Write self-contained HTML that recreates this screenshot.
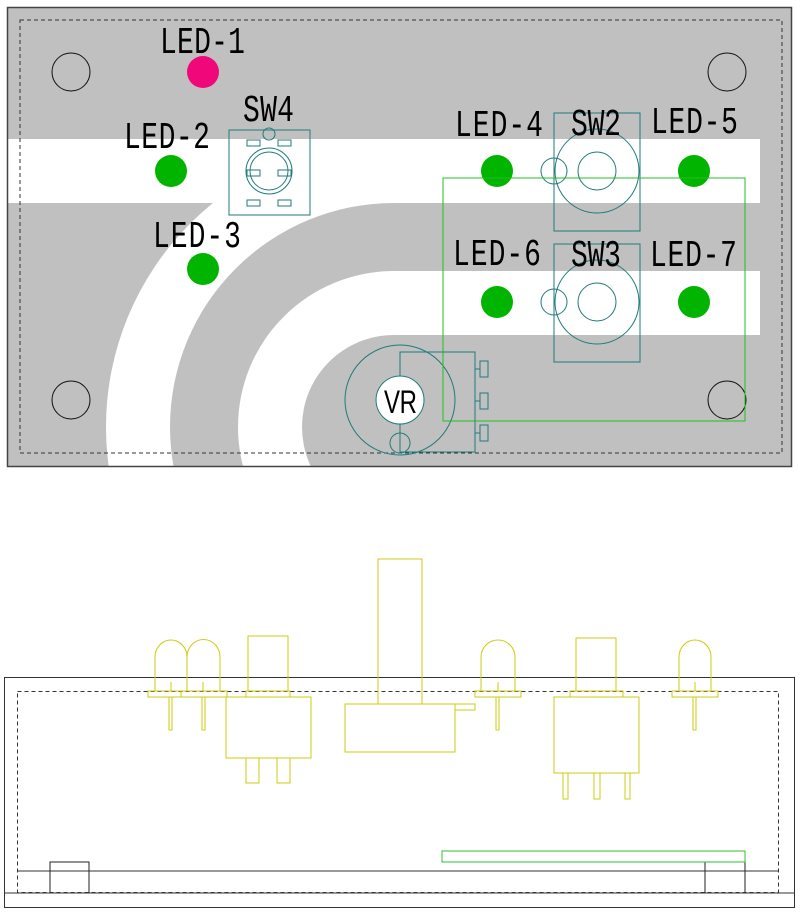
<!DOCTYPE html>
<html><head><meta charset="utf-8"><style>html,body{margin:0;padding:0;background:#fff;}svg{display:block}</style></head>
<body>
<svg width="800" height="915" viewBox="0 0 800 915" xmlns="http://www.w3.org/2000/svg">
<defs>
<clipPath id="board"><rect x="7" y="7" width="785" height="460"/></clipPath>
<clipPath id="left"><rect x="7" y="7" width="387" height="460"/></clipPath>
</defs>
<rect x="7" y="7" width="785" height="460" fill="#c0c0c0"/>
<g clip-path="url(#board)">
<rect x="7" y="139" width="753" height="64" fill="#fff"/>
<rect x="394" y="271" width="366" height="64" fill="#fff"/>
<g clip-path="url(#left)">
<circle cx="394" cy="427" r="288" fill="#fff"/>
<circle cx="394" cy="427" r="224" fill="#c0c0c0"/>
<circle cx="394" cy="427" r="156" fill="#fff"/>
<circle cx="394" cy="427" r="92" fill="#c0c0c0"/>
</g>
</g>
<rect x="7.5" y="7.5" width="784" height="459" fill="none" stroke="#444" stroke-width="1.5"/>
<rect x="20" y="20" width="762" height="433" fill="none" stroke="#333" stroke-dasharray="4,3"/>
<g fill="none" stroke="#111" stroke-width="1">
<circle cx="71" cy="72" r="19"/><circle cx="727" cy="72" r="19"/>
<circle cx="71" cy="400" r="19"/><circle cx="727" cy="400" r="19"/>
</g>
<circle cx="203" cy="72" r="16" fill="#f0087a"/>
<g fill="#00b400">
<circle cx="171" cy="171" r="16"/><circle cx="203" cy="269" r="16"/>
<circle cx="497" cy="171" r="16"/><circle cx="694" cy="171" r="16"/>
<circle cx="497" cy="302" r="16"/><circle cx="694" cy="302" r="16"/>
</g>
<g fill="none" stroke="#207a7a" stroke-width="1">
<rect x="229" y="130" width="81" height="85"/>
<circle cx="269" cy="134" r="6"/>
<circle cx="269" cy="171" r="23"/><circle cx="269" cy="171" r="19"/>
<rect x="247" y="140" width="13" height="6"/><rect x="278" y="140" width="13" height="6"/>
<rect x="247" y="170" width="13" height="6"/><rect x="278" y="170" width="13" height="6"/>
<rect x="247" y="200" width="13" height="6"/><rect x="278" y="200" width="13" height="6"/>
<rect x="554" y="113" width="86" height="118"/>
<circle cx="597" cy="171" r="42"/><circle cx="597" cy="171" r="19"/><circle cx="554" cy="171" r="13"/>
<rect x="554" y="244" width="86" height="118"/>
<circle cx="597" cy="302" r="42"/><circle cx="597" cy="302" r="19"/><circle cx="554" cy="302" r="13"/>
<rect x="400" y="352" width="75" height="100"/>
<circle cx="400" cy="400" r="55"/>
<circle cx="400" cy="443" r="10"/>
<path d="M475 369H480M475 401H480M475 433H480"/>
<rect x="480" y="361" width="8" height="16"/><rect x="480" y="393" width="8" height="16"/><rect x="480" y="425" width="8" height="16"/>
</g>
<circle cx="400" cy="400" r="24" fill="#fff" stroke="#207a7a"/>
<rect x="443" y="178" width="302" height="243" fill="none" stroke="#20c020" stroke-width="1"/>
<g font-family="Liberation Mono, monospace" font-size="28" fill="#000">
<text transform="translate(160,53) scale(1,1.35)" textLength="85">LED-1</text>
<text transform="translate(124,148) scale(1,1.35)" textLength="86">LED-2</text>
<text transform="translate(243,121) scale(1,1.35)" textLength="51">SW4</text>
<text transform="translate(153,247) scale(1,1.35)" textLength="88">LED-3</text>
<text transform="translate(455,136) scale(1,1.35)" textLength="88">LED-4</text>
<text transform="translate(571,135) scale(1,1.35)" textLength="50">SW2</text>
<text transform="translate(651,133) scale(1,1.35)" textLength="87">LED-5</text>
<text transform="translate(453,265) scale(1,1.35)" textLength="88">LED-6</text>
<text transform="translate(571,266) scale(1,1.35)" textLength="50">SW3</text>
<text transform="translate(650,266) scale(1,1.35)" textLength="87">LED-7</text>
<text transform="translate(384,413) scale(1,1.35)" font-family="Liberation Sans, sans-serif" font-size="24" textLength="33">VR</text>
</g>
<!-- side view -->
<rect x="4.5" y="677.5" width="790" height="230" fill="none" stroke="#333" stroke-width="1"/>
<rect x="17.5" y="691.5" width="761" height="201" fill="none" stroke="#333" stroke-dasharray="4,3"/>
<path d="M18 871H779M4 893H795" stroke="#333" fill="none"/>
<path d="M50 893V862H89V893M705 893V862H745V893" stroke="#222" fill="none"/>
<rect x="442" y="851" width="303" height="11" fill="none" stroke="#30c030"/>
<g fill="none" stroke="#cccc10" stroke-width="1">
<path d="M155 691V657A16 17 0 0 1 187 657V691"/>
<path d="M187 691V657A16 17 0 0 1 220 657V691"/>
<rect x="148" y="691" width="79" height="6"/>
<path d="M181 691V697"/>
<rect x="169" y="697" width="3" height="33"/><rect x="202" y="697" width="3" height="33"/>
<path d="M171 682V691M203 682V691"/>
<rect x="248" y="636" width="40" height="55"/>
<rect x="246" y="691" width="44" height="6"/>
<rect x="226" y="697" width="85" height="61"/>
<rect x="246" y="758" width="13" height="25"/><rect x="277" y="758" width="13" height="25"/>
<rect x="378" y="559" width="44" height="145"/>
<rect x="345" y="704" width="110" height="48"/>
<rect x="455" y="704" width="20" height="6"/>
<path d="M481 691V657A17 17 0 0 1 515 657V691"/>
<rect x="475" y="691" width="46" height="6"/>
<rect x="496" y="697" width="3" height="33"/>
<path d="M498 682V691"/>
<rect x="576" y="638" width="40" height="53"/>
<rect x="570" y="691" width="53" height="6"/>
<rect x="554" y="697" width="85" height="76"/>
<rect x="563" y="773" width="5" height="26"/><rect x="594" y="773" width="6" height="26"/><rect x="625" y="773" width="5" height="26"/>
<path d="M679 691V657A16 17 0 0 1 711 657V691"/>
<rect x="672" y="691" width="46" height="6"/>
<rect x="693" y="697" width="3" height="33"/>
<path d="M695 682V691"/>
</g>
</svg>
</body></html>
